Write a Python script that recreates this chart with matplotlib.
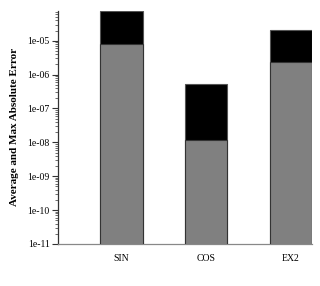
import matplotlib
matplotlib.use("Agg")
import matplotlib.pyplot as plt
from matplotlib.ticker import LogLocator, FixedFormatter, FixedLocator

categories = ["SIN", "COS", "EX2"]
avg_err = [8.2e-6, 1.15e-8, 2.4e-6]
max_err = [7.6e-5, 5.1e-7, 2.1e-5]
ytick_vals = [1e-11, 1e-10, 1e-9, 1e-8, 1e-7, 1e-6, 1e-5]
ytick_labels = ["1e-11", "1e-10", "1e-09", "1e-08", "1e-07", "1e-06", "1e-05"]

plt.rcParams['font.family'] = ['Liberation Serif', 'DejaVu Serif']

fig = plt.figure(figsize=(3.2, 2.86), dpi=100)
ax = fig.add_axes([0.181, 0.147, 0.794, 0.815])
x = list(range(len(categories)))
ax.bar(x, max_err, width=0.5, color='black', edgecolor='#555555', linewidth=0.8, zorder=2)
ax.bar(x, avg_err, width=0.5, color='#808080', edgecolor='#333333', linewidth=0.8, zorder=3)
ax.set_yscale('log')
ax.set_ylim(1e-11, 7.6e-5)
ax.set_xlim(-0.75, 2.25)
ax.yaxis.set_major_locator(FixedLocator(ytick_vals))
ax.yaxis.set_major_formatter(FixedFormatter(ytick_labels))
ax.yaxis.set_minor_locator(LogLocator(base=10, subs=range(2, 10), numticks=20))
ax.tick_params(axis='y', which='major', length=4, width=0.8, labelsize=7, pad=2, color='#333333')
ax.tick_params(axis='y', which='minor', length=2, width=0.5, color='#333333')
ax.set_xticks(x)
ax.set_xticklabels(categories)
ax.tick_params(axis='x', length=0, labelsize=7, pad=7)
for s in ['top', 'right']:
    ax.spines[s].set_visible(False)
ax.spines['left'].set_color('#333333')
ax.spines['bottom'].set_color('#888888')
ax.spines['left'].set_linewidth(0.9)
ax.spines['bottom'].set_linewidth(0.9)
ax.set_ylabel("Average and Max Absolute Error", fontsize=8, fontweight='bold', labelpad=6)
fig.savefig("out.png", dpi=100)
